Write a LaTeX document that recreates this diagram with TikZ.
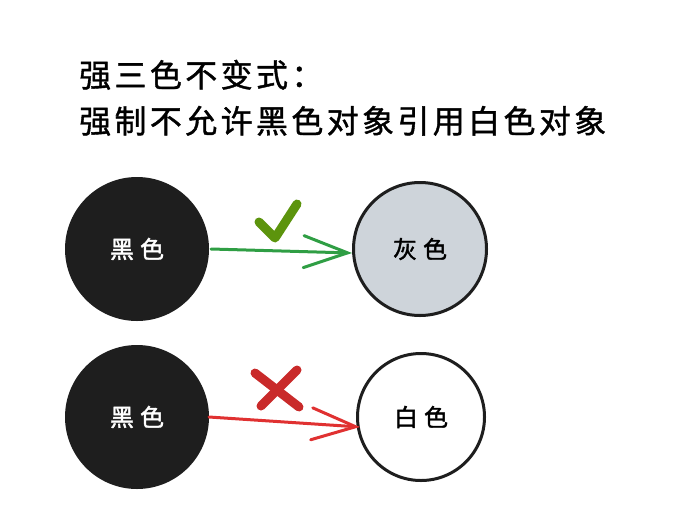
\documentclass[tikz,border=0pt]{standalone}
\usepackage{fontspec}
\usepackage{tikz}
\usetikzlibrary{arrows.meta}
\newfontfamily\cjktitle[LetterSpace=10.5, FakeBold=1.2]{Noto Sans CJK SC}
\newfontfamily\cjklabel[LetterSpace=25, FakeBold=1.5]{Noto Sans CJK SC}
\definecolor{inkblack}{HTML}{1E1E1E}
\definecolor{greyfill}{HTML}{CED4DA}
\definecolor{okgreen}{HTML}{2F9E44}
\definecolor{tickgreen}{HTML}{5C940D}
\definecolor{badred}{HTML}{E03131}
\definecolor{crossred}{HTML}{C92A2A}
\begin{document}
\begin{tikzpicture}[x=1pt, y=-1pt,
	obj/.style={circle, line width=3pt, draw=inkblack, inner sep=0pt, font=\fontsize{24}{24}\cjklabel},
	blackobj/.style={obj, fill=inkblack, text=white, minimum size=141pt},
	ref/.style={line width=3pt, line cap=round, -{Straight Barb[length=44pt, width=32pt, line cap=round]}},
	verdict/.style={line width=9pt, line cap=round, line join=round}]
	\useasboundingbox (0,0) rectangle (692,522);
	% title
	\node[anchor=base west, inner sep=0pt, font=\fontsize{32}{32}\cjktitle] (title1) at (79,87) {强三色不变式：};
	\node[anchor=base west, inner sep=0pt, font=\fontsize{32}{32}\cjktitle] (title2) at (79,133) {强制不允许黑色对象引用白色对象};
	% allowed: black -> grey
	\node[blackobj] (black1) at (137,249) {黑色};
	\node[obj, fill=greyfill, minimum size=133pt] (grey) at (420,249) {灰色};
	\draw[ref, okgreen] ([xshift=2pt]black1.east) -- ([yshift=-4pt]grey.west);
	\draw[verdict, tickgreen] (259,222) -- (275,238) -- (297,204);
	% forbidden: black -> white
	\node[blackobj] (black2) at (137,417) {黑色};
	\node[obj, fill=white, minimum size=127pt] (white) at (421,417) {白色};
	\draw[ref, badred] (black2.east) -- ([xshift=4pt, yshift=-10pt]white.west);
	\draw[verdict, crossred] (255,373) -- (299,407);
	\draw[verdict, crossred] (297,370) -- (261,406);
\end{tikzpicture}
\end{document}
